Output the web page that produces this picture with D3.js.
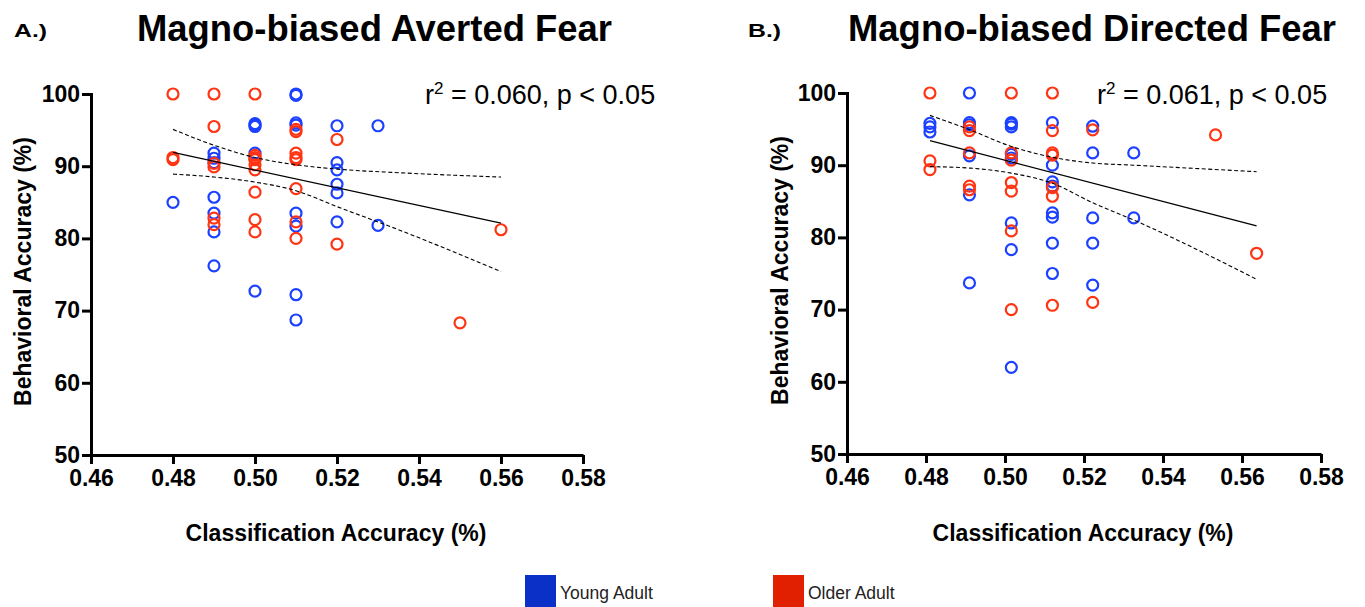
<!DOCTYPE html>
<html>
<head>
<meta charset="utf-8">
<script src="https://cdn.jsdelivr.net/npm/d3@7"></script>
<style>
  body { margin: 0; background: #fff; }
  svg { display: block; font-family: "Liberation Sans", Arial, sans-serif; }
</style>
</head>
<body>
<svg id="chart" width="1365" height="607"></svg>
<script>
// data: [classification accuracy, behavioral accuracy]
const avertedYoung = [
  [0.48, 85.0],
  [0.49, 91.8], [0.49, 91.1], [0.49, 90.5], [0.49, 85.7], [0.49, 83.5], [0.49, 80.9], [0.49, 76.2],
  [0.50, 95.9], [0.50, 95.7], [0.50, 95.5], [0.50, 91.8], [0.50, 91.0], [0.50, 72.7],
  [0.51, 100], [0.51, 99.8], [0.51, 96.0], [0.51, 95.7], [0.51, 83.5], [0.51, 81.7], [0.51, 72.2], [0.51, 68.7],
  [0.52, 95.6], [0.52, 90.5], [0.52, 89.5], [0.52, 87.5], [0.52, 86.3], [0.52, 82.3],
  [0.53, 95.6], [0.53, 81.8]
];
const avertedOlder = [
  [0.48, 100], [0.48, 91.2], [0.48, 90.9],
  [0.49, 100], [0.49, 95.5], [0.49, 90.4], [0.49, 89.9], [0.49, 82.8], [0.49, 81.9],
  [0.50, 100], [0.50, 91.5], [0.50, 91.2], [0.50, 90.9], [0.50, 90.2], [0.50, 89.5], [0.50, 86.4], [0.50, 82.6], [0.50, 80.9],
  [0.51, 95.1], [0.51, 94.8], [0.51, 91.8], [0.51, 91.2], [0.51, 90.9], [0.51, 86.9], [0.51, 82.3], [0.51, 80.0],
  [0.52, 93.7], [0.52, 79.2],
  [0.55, 68.3],
  [0.56, 81.2]
];
const avertedFitX = [0.48, 0.56];
const avertedFitY = [91.9, 82.1];
const avertedBandX = [0.48, 0.49, 0.50, 0.51, 0.52, 0.535, 0.56];
const avertedUpper = [95.1, 92.9, 91.2, 90.2, 89.6, 89.1, 88.5];
const avertedLower = [88.9, 88.5, 87.8, 86.6, 84.4, 81.2, 75.4];

const directedYoung = [
  [0.481, 95.8], [0.481, 95.3], [0.481, 94.6],
  [0.491, 100], [0.491, 95.9], [0.491, 95.6], [0.491, 91.3], [0.491, 85.9], [0.491, 73.7],
  [0.5016, 95.9], [0.5016, 95.7], [0.5016, 95.3], [0.5016, 91.5], [0.5016, 91.0], [0.5016, 82.0], [0.5016, 78.3], [0.5016, 62.0],
  [0.512, 95.9], [0.512, 90.0], [0.512, 87.7], [0.512, 87.1], [0.512, 83.4], [0.512, 82.8], [0.512, 79.2], [0.512, 75.0],
  [0.5222, 95.4], [0.5222, 91.7], [0.5222, 82.7], [0.5222, 79.2], [0.5222, 73.4],
  [0.5326, 91.7], [0.5326, 82.7]
];
const directedOlder = [
  [0.481, 100], [0.481, 90.6], [0.481, 89.4],
  [0.491, 95.3], [0.491, 94.8], [0.491, 91.7], [0.491, 87.1], [0.491, 86.6],
  [0.5016, 100], [0.5016, 91.7], [0.5016, 90.7], [0.5016, 87.6], [0.5016, 86.4], [0.5016, 80.9], [0.5016, 70.0],
  [0.512, 100], [0.512, 94.8], [0.512, 91.7], [0.512, 91.4], [0.512, 86.9], [0.512, 85.7], [0.512, 70.6],
  [0.5222, 94.9], [0.5222, 71.0],
  [0.5533, 94.2],
  [0.5637, 77.8]
];
const directedFitX = [0.481, 0.5637];
const directedFitY = [93.4, 81.6];
const directedBandX = [0.481, 0.4911, 0.5016, 0.512, 0.5222, 0.5326, 0.5637];
const directedUpper = [96.9, 94.9, 92.6, 91.1, 90.3, 90.0, 89.1];
const directedLower = [89.8, 89.6, 88.9, 87.5, 84.8, 82.4, 74.2];

const xTicks = [0.46, 0.48, 0.50, 0.52, 0.54, 0.56, 0.58];
const yTicks = [50, 60, 70, 80, 90, 100];
const seriesNames = ["Young Adult", "Older Adult"];

const svg = d3.select("#chart");

function drawPanel(p) {
  const x = d3.scaleLinear().domain([0.46, 0.58]).range(p.xRange);
  const y = d3.scaleLinear().domain([50, 100]).range(p.yRange);
  const g = svg.append("g");

  // panel letter + title
  g.append("text")
    .attr("x", p.letterX).attr("y", 37)
    .attr("font-size", 19).attr("font-weight", "bold")
    .attr("textLength", 33).attr("lengthAdjust", "spacingAndGlyphs")
    .text(p.letter);
  g.append("text")
    .attr("x", p.titleX).attr("y", 41)
    .attr("font-size", 37).attr("font-weight", "bold")
    .attr("textLength", p.titleW).attr("lengthAdjust", "spacingAndGlyphs")
    .text(p.title);

  // axes
  const xAxis = g.append("g")
    .attr("transform", `translate(0,${p.yRange[0]})`)
    .call(d3.axisBottom(x).tickValues(xTicks).tickFormat(d3.format(".2f")).tickSize(9).tickSizeOuter(0).tickPadding(6));
  const yAxis = g.append("g")
    .attr("transform", `translate(${p.xRange[0]},0)`)
    .call(d3.axisLeft(y).tickValues(yTicks).tickSize(9).tickSizeOuter(0).tickPadding(2));
  [xAxis, yAxis].forEach(a => {
    a.selectAll("path, line").attr("stroke", "#000").attr("stroke-width", 3);
    a.selectAll("text")
      .attr("fill", "#000")
      .attr("font-size", 23)
      .attr("font-weight", "bold")
      .attr("font-family", "Liberation Sans, Arial, sans-serif");
  });
  yAxis.select(".domain").attr("stroke-linecap", "square");

  g.append("text")
    .attr("x", (p.xRange[0] + x(0.58)) / 2 - 1).attr("y", 541)
    .attr("text-anchor", "middle")
    .attr("font-size", 23).attr("font-weight", "bold")
    .text("Classification Accuracy (%)");
  g.append("text")
    .attr("transform", `translate(${p.yTitleX},${(p.yRange[0] + p.yRange[1]) / 2 - 3}) rotate(-90)`)
    .attr("text-anchor", "middle")
    .attr("font-size", 23).attr("font-weight", "bold")
    .text("Behavioral Accuracy (%)");

  // stats
  const st = g.append("text")
    .attr("x", p.statX).attr("y", 104)
    .attr("font-size", 27);
  st.append("tspan").text("r");
  st.append("tspan").attr("font-size", 17).attr("dy", -10).text("2");
  st.append("tspan").attr("dy", 10).text(` = ${p.r2}, p < 0.05`);

  // points
  const drawPts = (data, color) => {
    g.append("g").selectAll("circle")
      .data(data)
      .join("circle")
      .attr("cx", d => x(d[0]))
      .attr("cy", d => y(d[1]))
      .attr("r", 5.5)
      .attr("fill", "none")
      .attr("stroke", color)
      .attr("stroke-width", 2.2);
  };
  drawPts(p.young, "#1c40ff");
  drawPts(p.older, "#ff3413");

  // fit + confidence band
  const line = d3.line().x(d => x(d[0])).y(d => y(d[1]));
  const smooth = d3.line().x(d => x(d[0])).y(d => y(d[1])).curve(d3.curveMonotoneX);
  g.append("path")
    .attr("d", line(d3.zip(p.fitX, p.fitY)))
    .attr("fill", "none").attr("stroke", "#000").attr("stroke-width", 1.3);
  [p.upper, p.lower].forEach(b => {
    g.append("path")
      .attr("d", smooth(d3.zip(p.bandX, b)))
      .attr("fill", "none").attr("stroke", "#000").attr("stroke-width", 1.1)
      .attr("stroke-dasharray", "4,2.5");
  });
}

drawPanel({
  letter: "A.)", letterX: 14, title: "Magno-biased Averted Fear", titleX: 137, titleW: 475,
  xRange: [91, 583], yRange: [455, 94], yTitleX: 31, statX: 425, r2: "0.060",
  young: avertedYoung, older: avertedOlder,
  fitX: avertedFitX, fitY: avertedFitY, bandX: avertedBandX, upper: avertedUpper, lower: avertedLower
});
drawPanel({
  letter: "B.)", letterX: 748, title: "Magno-biased Directed Fear", titleX: 848, titleW: 488,
  xRange: [847, 1321], yRange: [454, 93], yTitleX: 788, statX: 1097, r2: "0.061",
  young: directedYoung, older: directedOlder,
  fitX: directedFitX, fitY: directedFitY, bandX: directedBandX, upper: directedUpper, lower: directedLower
});

// legend
const legendColors = ["#0a30c8", "#e02000"];
const legendX = [525, 773];
const lg = svg.append("g").selectAll("g")
  .data(seriesNames)
  .join("g")
  .attr("transform", (d, i) => `translate(${legendX[i]},575)`);
lg.append("rect")
  .attr("width", 31).attr("height", 32)
  .attr("fill", (d, i) => legendColors[i]);
lg.append("text")
  .attr("x", 35).attr("y", 24)
  .attr("font-size", 17.5)
  .attr("fill", "#222")
  .text(d => d);
</script>
</body>
</html>
